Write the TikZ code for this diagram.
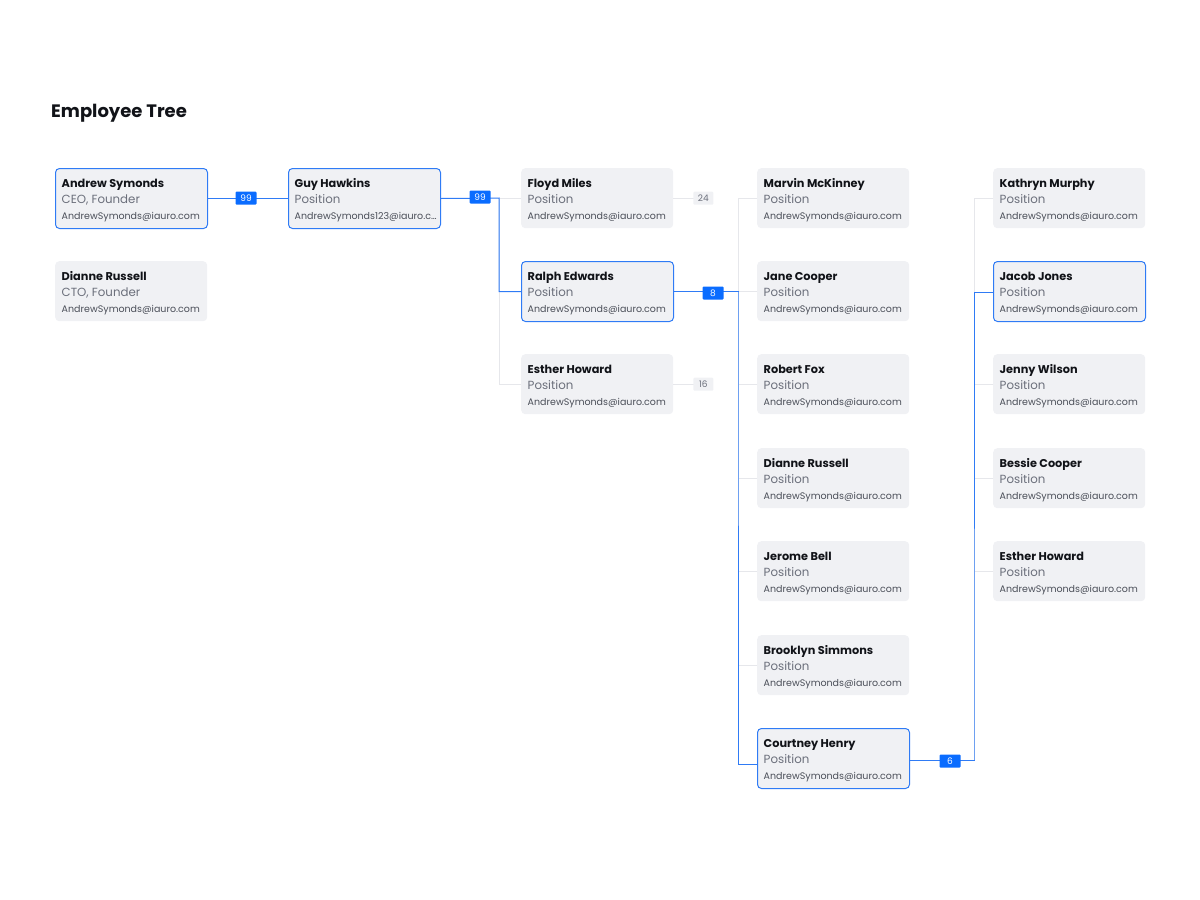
\documentclass[tikz,border=0pt]{standalone}
\usepackage{fontspec}
\setmainfont{Poppins}
\definecolor{bl}{HTML}{2F7BF5}
\definecolor{bfill}{HTML}{0A6CFF}
\definecolor{card}{HTML}{F0F1F4}
\definecolor{gl}{HTML}{E6E7EB}
\definecolor{txt}{HTML}{111318}
\definecolor{sub}{HTML}{6B6F7B}
\definecolor{mail}{HTML}{4A4E58}
\tikzset{
 cardbox/.style={rectangle,rounded corners=4pt,fill=card,minimum width=152pt,minimum height=60pt,anchor=north west,inner sep=0pt},
 hi/.style={draw=bl,line width=1pt},
 nm/.style={anchor=base west,inner sep=0pt,font=\fontsize{11.3}{12}\selectfont\bfseries,text=txt},
 ps/.style={anchor=base west,inner sep=0pt,font=\fontsize{11.8}{12}\selectfont,text=sub},
 ml/.style={anchor=base west,inner sep=0pt,font=\fontsize{9.5}{12}\selectfont,text=mail},
 bline/.style={draw=bl,line width=1pt},
 gline/.style={draw=gl,line width=0.8pt},
 bbadge/.style={fill=bfill,text=white,font=\fontsize{9}{10}\selectfont,minimum width=21pt,minimum height=13pt,inner sep=0pt,rounded corners=1pt},
 gbadge/.style={fill=card,text=sub,font=\fontsize{9}{10}\selectfont,minimum width=20pt,minimum height=13pt,inner sep=0pt,rounded corners=1pt},
}
\newcommand{\mycard}[6]{%
 \node[cardbox,#6] (#1) at (#2) {};
 \node[nm] (#1n) at ([shift={(6.5pt,-19pt)}]#1.north west) {#3};
 \node[ps] (#1p) at ([shift={(6.5pt,-35.5pt)}]#1.north west) {#4};
 \node[ml] (#1m) at ([shift={(6.5pt,-51pt)}]#1.north west) {#5};
}
\begin{document}
\begin{tikzpicture}[x=1pt,y=-1pt]
\useasboundingbox (0,0) rectangle (1200,900);
\node[anchor=base west,inner sep=0pt,font=\fontsize{18}{20}\selectfont\bfseries,text=txt] (title) at (51,117) {Employee Tree};
\mycard{as}{55,168}{Andrew Symonds}{CEO, Founder}{AndrewSymonds@iauro.com}{hi}
\mycard{dr}{55,261}{Dianne Russell}{CTO, Founder}{AndrewSymonds@iauro.com}{}
\mycard{gh}{288,168}{Guy Hawkins}{Position}{AndrewSymonds123@iauro.c…}{hi}
\mycard{fm}{521,168}{Floyd Miles}{Position}{AndrewSymonds@iauro.com}{}
\mycard{re}{521,261}{Ralph Edwards}{Position}{AndrewSymonds@iauro.com}{hi}
\mycard{eh}{521,354}{Esther Howard}{Position}{AndrewSymonds@iauro.com}{}
\mycard{mm}{757,168}{Marvin McKinney}{Position}{AndrewSymonds@iauro.com}{}
\mycard{jc}{757,261}{Jane Cooper}{Position}{AndrewSymonds@iauro.com}{}
\mycard{rf}{757,354}{Robert Fox}{Position}{AndrewSymonds@iauro.com}{}
\mycard{dr2}{757,448}{Dianne Russell}{Position}{AndrewSymonds@iauro.com}{}
\mycard{jb}{757,541}{Jerome Bell}{Position}{AndrewSymonds@iauro.com}{}
\mycard{bs}{757,635}{Brooklyn Simmons}{Position}{AndrewSymonds@iauro.com}{}
\mycard{ch}{757,728}{Courtney Henry}{Position}{AndrewSymonds@iauro.com}{hi}
\mycard{km}{993,168}{Kathryn Murphy}{Position}{AndrewSymonds@iauro.com}{}
\mycard{jj}{993,261}{Jacob Jones}{Position}{AndrewSymonds@iauro.com}{hi}
\mycard{jw}{993,354}{Jenny Wilson}{Position}{AndrewSymonds@iauro.com}{}
\mycard{bc}{993,448}{Bessie Cooper}{Position}{AndrewSymonds@iauro.com}{}
\mycard{eh2}{993,541}{Esther Howard}{Position}{AndrewSymonds@iauro.com}{}
\coordinate (j1) at (499,198);
\coordinate (j2) at (738,292);
\coordinate (j3) at (974,760);
\draw[gline] (fm.west) -| (j1) (j1) |- (eh.west);
\draw[gline] (mm.west) -| (j2);
\foreach \c in {jc,rf,dr2,jb,bs} \draw[gline] (\c.west) -- (\c.west -| j2);
\draw[gline] (mm.west -| j2) -- (ch.west -| j2);
\draw[gline] (km.west) -| (j3);
\foreach \c in {jw,bc,eh2} \draw[gline] (\c.west) -- (\c.west -| j3);
\draw[gline] (fm.east) -- ++(30,0) node[gbadge,pos=1.0,anchor=center] (b24) {24};
\draw[gline] (eh.east) -- ++(30,0) node[gbadge,pos=1.0,anchor=center] (b16) {16};
\draw[bline] (as.east) -- (gh.west);
\draw[bline] (gh.east) -- (j1) |- (re.west);
\draw[bline] (re.east) -| (j2) |- ([yshift=-6pt]ch.west);
\draw[bline] ([yshift=-2pt]ch.east) -| (j3) |- ([yshift=-1pt]jj.west);
\node[bbadge] (b99a) at (246,198) {99};
\node[bbadge] (b99b) at (480,197) {99};
\node[bbadge] (b8) at (713,293) {8};
\node[bbadge] (b6) at (950,761) {6};
\end{tikzpicture}
\end{document}
